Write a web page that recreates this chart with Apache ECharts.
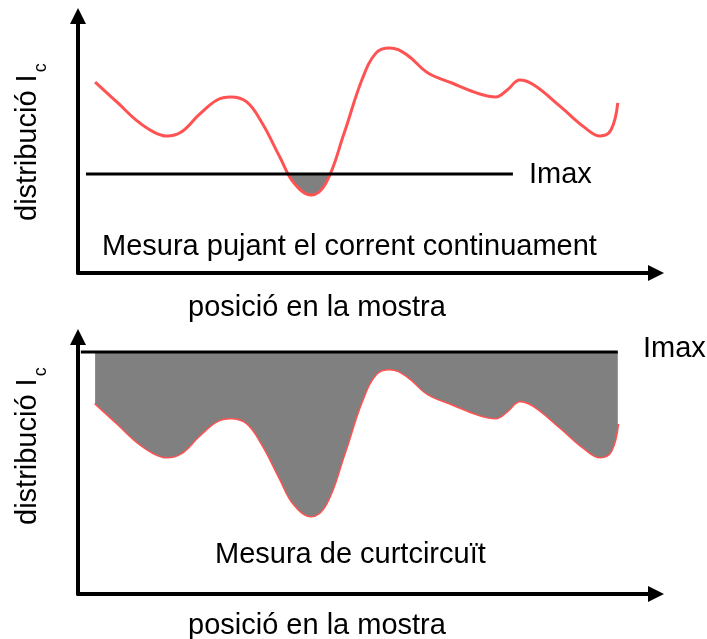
<!DOCTYPE html>
<html>
<head>
<meta charset="utf-8">
<script src="https://cdn.jsdelivr.net/npm/echarts@6/dist/echarts.min.js"></script>
<style>
html,body{margin:0;padding:0;background:#fff;}
#chart{width:707px;height:639px;}
</style>
</head>
<body>
<div id="chart"></div>
<script>
// positions along the sample (arbitrary units 0-100)
const xPos = [3.0, 7.0, 10.2, 13.3, 15.6, 18.1, 21.2, 24.4, 26.8, 29.6, 32.3, 35.4, 37.9, 40.9, 43.5, 46.7, 49.8, 52.3, 54.7, 57.7, 61.4, 65.6, 70.5, 73.3, 75.3, 77.5, 80.0, 84.7, 88.8, 91.6, 93.5, 94.7];
// Ic distribution (arbitrary units 0-100)
const icDist = [76.7, 68.3, 61.4, 56.6, 55.0, 56.6, 63.5, 69.5, 70.7, 68.7, 60.2, 46.6, 36.1, 31.3, 36.1, 56.2, 77.5, 88.4, 90.4, 87.6, 80.3, 76.3, 71.9, 70.7, 73.5, 77.5, 75.5, 66.7, 58.6, 55.0, 57.4, 68.3];
// Imax levels
const imaxTop = 39.8;
const imaxBottom = 97.2;
const imaxTopSpan = [1.4, 76.3];
const imaxBottomSpan = [0.5, 94.7];
// texts
const yLabel = 'distribució I';
const ySub = 'c';
const xLabel = 'posició en la mostra';
const imaxLabel = 'Imax';
const titleTop = 'Mesura pujant el corrent continuament';
const titleBottom = 'Mesura de curtcircuït';

const FONT = '"Liberation Sans", Arial, Helvetica, sans-serif';
const RED = '#ff5252';
const GRAY = '#808080';

const curve = xPos.map((x, i) => [x, icDist[i]]);

function axis(gi) {
  return {
    type: 'value', gridIndex: gi, min: 0, max: 100,
    axisLine: { show: true, onZero: false, symbol: ['none', 'triangle'], symbolSize: [16, 16], symbolOffset: [0, 8],
      lineStyle: { color: '#000', width: 4 } },
    axisTick: { show: false }, axisLabel: { show: false }, splitLine: { show: false }
  };
}

function txt(x, y, text, size) {
  return { type: 'text', x: x, y: y, silent: true,
    style: { text: text, font: size + 'px ' + FONT, fill: '#000', align: 'left', verticalAlign: 'middle', textAlign: 'left', textVerticalAlign: 'middle' } };
}

function yTitle(cx, cy) {
  return { type: 'group', x: cx, y: cy, rotation: Math.PI / 2, children: [
    txt(-78, 0, yLabel, 29),
    txt(70.7, 13.5, ySub, 18)
  ] };
}

const chart = echarts.init(document.getElementById('chart'));
chart.setOption({
  animation: false,
  backgroundColor: '#fff',
  grid: [
    { left: 78, top: 24, width: 570, height: 249 },
    { left: 78, top: 345, width: 570, height: 249 }
  ],
  xAxis: [axis(0), axis(1)],
  yAxis: [axis(0), axis(1)],
  visualMap: [{
    type: 'piecewise', show: false, seriesIndex: 1, dimension: 1,
    pieces: [{ gte: 0, lte: imaxTop, color: GRAY }],
    outOfRange: { color: 'rgba(255,255,255,0)' }
  }],
  series: [
    { type: 'line', xAxisIndex: 0, yAxisIndex: 0, data: curve, smooth: 0.4, showSymbol: false, silent: true, z: 3,
      lineStyle: { color: RED, width: 3 } },
    { type: 'line', xAxisIndex: 0, yAxisIndex: 0, data: curve, smooth: 0.4, showSymbol: false, silent: true, z: 2,
      lineStyle: { width: 0, opacity: 0 }, areaStyle: { opacity: 1, origin: imaxTop } },
    { type: 'line', xAxisIndex: 0, yAxisIndex: 0, data: imaxTopSpan.map(x => [x, imaxTop]), showSymbol: false, silent: true, z: 4,
      lineStyle: { color: '#000', width: 3 } },
    { type: 'line', xAxisIndex: 1, yAxisIndex: 1, data: curve, smooth: 0.4, showSymbol: false, silent: true, z: 2,
      lineStyle: { color: RED, width: 3 } },
    { type: 'line', xAxisIndex: 1, yAxisIndex: 1, data: curve, smooth: 0.4, showSymbol: false, silent: true, z: 3,
      lineStyle: { width: 0, opacity: 0 }, areaStyle: { color: GRAY, opacity: 1, origin: imaxBottom } },
    { type: 'line', xAxisIndex: 1, yAxisIndex: 1, data: imaxBottomSpan.map(x => [x, imaxBottom]), showSymbol: false, silent: true, z: 4,
      lineStyle: { color: '#000', width: 3 } }
  ],
  graphic: [
    txt(529, 175, imaxLabel, 29),
    txt(643, 349, imaxLabel, 29),
    txt(102, 247, titleTop, 29),
    txt(215, 555, titleBottom, 29),
    txt(188, 307.5, xLabel, 29),
    txt(188, 625.5, xLabel, 29),
    yTitle(27.6, 143),
    yTitle(27.6, 447)
  ]
});
</script>
</body>
</html>
